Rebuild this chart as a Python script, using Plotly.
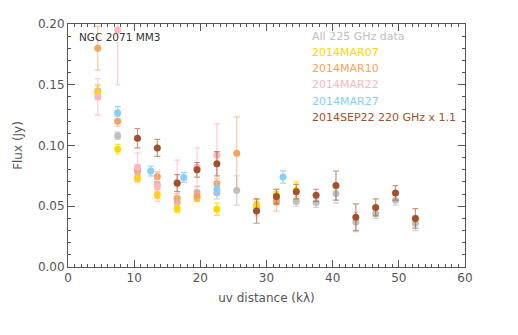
import plotly.graph_objects as go

# ---- data ----
x_all = [4.5, 7.5, 10.5, 13.5, 16.5, 19.5, 22.5, 25.5, 28.5, 31.5, 34.5, 37.5, 40.5, 43.5, 46.5, 49.5, 52.5]
y_all = [0.145, 0.108, 0.079, 0.068, 0.053, 0.0616, 0.061, 0.063, 0.048, 0.055, 0.054, 0.053, 0.0605, 0.037, 0.044, 0.055, 0.036]
e_all = [0.004, 0.003, 0.004, 0.004, 0.004, 0.005, 0.005, 0.012, 0.006, 0.004, 0.004, 0.004, 0.008, 0.008, 0.004, 0.004, 0.006]

x_mar07 = [4.5, 7.5, 10.5, 13.5, 16.5, 19.5, 22.5, 28.5, 31.5, 34.5]
y_mar07 = [0.144, 0.097, 0.073, 0.0595, 0.048, 0.057, 0.0475, 0.051, 0.059, 0.063]
e_mar07 = [0.006, 0.004, 0.003, 0.003, 0.003, 0.003, 0.005, 0.005, 0.005, 0.007]

x_mar10 = [4.5, 7.5, 10.5, 13.5, 16.5, 19.5, 22.5, 25.5, 31.5]
y_mar10 = [0.180, 0.120, 0.080, 0.0744, 0.0565, 0.0584, 0.0688, 0.0936, 0.054]
e_mar10 = [0.018, 0.004, 0.004, 0.004, 0.004, 0.004, 0.004, 0.030, 0.008]

x_mar22 = [4.5, 7.5, 10.5, 13.5, 16.5, 19.5, 22.5]
y_mar22 = [0.140, 0.195, 0.082, 0.066, 0.070, 0.082, 0.092]
e_mar22 = [0.015, 0.045, 0.012, 0.012, 0.018, 0.016, 0.026]

x_mar27 = [7.5, 12.5, 17.5, 22.5, 32.5]
y_mar27 = [0.127, 0.079, 0.0736, 0.0637, 0.0741]
e_mar27 = [0.005, 0.004, 0.004, 0.004, 0.005]

x_sep22 = [10.5, 13.5, 16.5, 19.5, 22.5, 28.5, 31.5, 34.5, 37.5, 40.5, 43.5, 46.5, 49.5, 52.5]
y_sep22 = [0.106, 0.098, 0.069, 0.080, 0.085, 0.046, 0.058, 0.062, 0.059, 0.067, 0.041, 0.049, 0.061, 0.040]
e_sep22 = [0.008, 0.007, 0.007, 0.006, 0.010, 0.010, 0.006, 0.006, 0.005, 0.012, 0.011, 0.007, 0.006, 0.008]

labels = ["All 225 GHz data", "2014MAR07", "2014MAR10", "2014MAR22", "2014MAR27", "2014SEP22 220 GHz x 1.1"]
colors = ["#c0c0c0", "#ffd700", "#f4a460", "#ffb6c1", "#87cefa", "#a0522d"]
err_colors = ["rgba(192,192,192,0.7)", "rgba(255,215,0,0.8)", "rgba(244,164,96,0.6)",
              "rgba(255,182,193,0.7)", "rgba(135,206,250,0.8)", "rgba(160,82,45,0.6)"]

series = [(x_all, y_all, e_all), (x_mar07, y_mar07, e_mar07), (x_mar10, y_mar10, e_mar10),
          (x_mar22, y_mar22, e_mar22), (x_mar27, y_mar27, e_mar27), (x_sep22, y_sep22, e_sep22)]

fig = go.Figure()
for (xs, ys, es), c, ec, name in zip(series, colors, err_colors, labels):
    fig.add_trace(go.Scatter(
        x=xs, y=ys, mode="markers", name=name,
        marker=dict(color=c, size=7, line=dict(width=0)),
        error_y=dict(type="data", array=es, visible=True, color=ec, thickness=1.2, width=3),
        showlegend=False,
    ))

font_family = "DejaVu Sans, Arial, sans-serif"
axis_color = "#555555"

# legend-like coloured text
for i, (name, c) in enumerate(zip(labels, colors)):
    fig.add_annotation(x=36.5, y=0.1896 - i * 0.01325, xref="x", yref="y", text=name,
                       showarrow=False, xanchor="left", yanchor="middle",
                       font=dict(family=font_family, size=11, color=c))

fig.add_annotation(x=1.4, y=0.1896, xref="x", yref="y", text="NGC 2071 MM3",
                   showarrow=False, xanchor="left", yanchor="middle",
                   font=dict(family=font_family, size=10.5, color="#333333"))

common_axis = dict(
    showgrid=False, zeroline=False, showline=True, linecolor=axis_color, linewidth=1,
    mirror="allticks", ticks="inside", ticklen=7, tickcolor=axis_color, tickwidth=1,
    tickfont=dict(family=font_family, size=12, color=axis_color),
)

fig.update_xaxes(range=[0, 60], dtick=10, tick0=0,
                 minor=dict(dtick=1, ticks="inside", ticklen=3, tickcolor=axis_color),
                 title=dict(text="uv distance (kλ)", font=dict(family=font_family, size=12, color=axis_color), standoff=9),
                 **common_axis)
fig.update_yaxes(range=[0, 0.2], dtick=0.05, tick0=0, tickformat=".2f",
                 minor=dict(dtick=0.01, ticks="inside", ticklen=3, tickcolor=axis_color),
                 title=dict(text="Flux (Jy)", font=dict(family=font_family, size=12, color=axis_color), standoff=12),
                 **common_axis)

fig.update_layout(
    width=510, height=327,
    margin=dict(l=54, r=53, t=9, b=68),
    plot_bgcolor="white", paper_bgcolor="white",
    showlegend=False,
)

fig.write_html("out.html")
